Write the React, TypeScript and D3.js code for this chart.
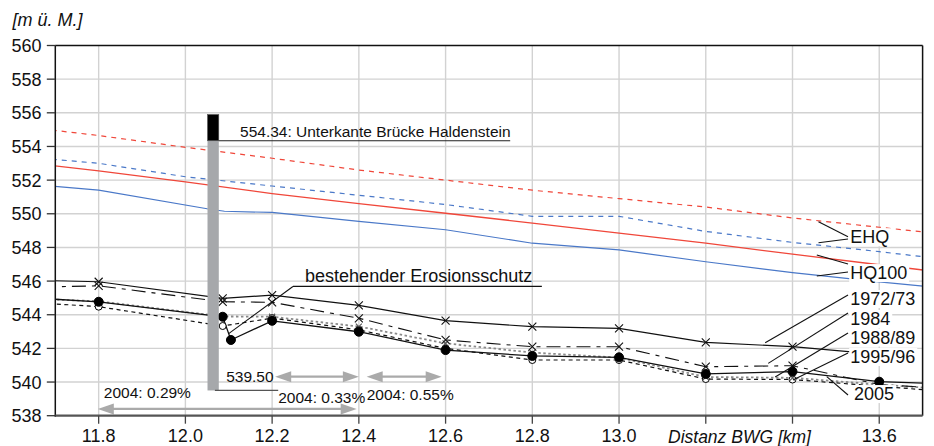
import React, { useEffect, useRef } from "react";
import * as d3 from "d3";

const W = 934;
const H = 446;
const KM_DOMAIN: [number, number] = [11.7, 13.7];
const ELEV_DOMAIN: [number, number] = [538, 560];

const xTicks = [11.8, 12.0, 12.2, 12.4, 12.6, 12.8, 13.0, 13.2, 13.4, 13.6];
const xTickLabels = ["11.8", "12.0", "12.2", "12.4", "12.6", "12.8", "13.0", "", "", "13.6"];
const yTicks = [538, 540, 542, 544, 546, 548, 550, 552, 554, 556, 558, 560];

// Water levels
const hqKm = [11.6, 11.8, 12.0, 12.2, 12.4, 12.6, 12.8, 13.0, 13.2, 13.4, 13.6, 13.8];
const ehqRed = [555.25, 554.65, 553.95, 553.3, 552.6, 552.0, 551.4, 550.9, 550.4, 549.75, 549.2, 548.65];
const ehqBlue = [553.45, 553.0, 552.2, 551.65, 551.1, 550.55, 549.85, 549.85, 548.95, 548.3, 547.75, 547.15];
const hq100Red = [553.15, 552.55, 551.9, 551.2, 550.6, 550.03, 549.45, 548.85, 548.25, 547.6, 546.97, 546.35];
const hq100BlueKm = [11.6, 11.8, 12.05, 12.09, 12.2, 12.4, 12.6, 12.8, 13.0, 13.2, 13.4, 13.6, 13.8];
const hq100Blue = [551.85, 551.4, 550.3, 550.15, 550.08, 549.55, 549.05, 548.25, 547.85, 547.15, 546.5, 545.95, 545.45];

// River bed profiles
const profileKm = [11.6, 11.8, 12.086, 12.2, 12.4, 12.6, 12.8, 13.0, 13.2, 13.4, 13.6, 13.8];
const bed1972 = [546.08, 545.96, 544.97, 545.17, 544.56, 543.65, 543.29, 543.19, 542.36, 542.1, 541.65, null];
const bed1984 = [545.6, 545.72, 544.77, 544.74, 543.79, 542.5, 542.1, 542.1, 540.91, 540.97, 539.85, 539.55];
const bed1988 = [545.0, 544.8, 543.9, 543.88, 543.3, 542.3, 541.75, 541.45, 540.3, 540.25, 539.85, 539.5];
const bed1995 = [544.8, 544.48, 543.33, 543.8, 543.1, 542.0, 541.31, 541.31, 540.18, 540.15, 539.75, 539.35];
const bed2005Km = [11.6, 11.8, 12.086, 12.105, 12.2, 12.4, 12.6, 12.8, 13.0, 13.2, 13.4, 13.6, 13.8];
const bed2005 = [545.07, 544.77, 543.88, 542.5, 543.64, 542.99, 541.9, 541.55, 541.47, 540.48, 540.62, 540.02, 539.85];

// Bridge
const bridgeKm = [12.051, 12.077];
const bridgeBottom = 539.5;
const bridgeSoffit = 554.34;
const bridgeTop = 555.9;

// Right-side labels: text, km, baseline elev, leader lines [km1, e1, km2, e2]
const labelTexts = ["EHQ", "HQ100", "1972/73", "1984", "1988/89", "1995/96", "2005"];
const labelKm = [13.533, 13.533, 13.533, 13.533, 13.533, 13.533, 13.542];
const labelElev = [548.25, 546.12, 544.58, 543.39, 542.29, 541.13, 538.93];
const labelLeaders: number[][][] = [
  [[13.528, 548.64, 13.46, 549.53], [13.528, 548.5, 13.46, 548.28]],
  [[13.528, 547.02, 13.456, 547.55], [13.528, 546.54, 13.456, 546.3]],
  [[13.528, 545.17, 13.337, 542.34]],
  [[13.528, 544.1, 13.344, 541.11]],
  [[13.528, 542.91, 13.36, 540.3]],
  [[13.528, 541.73, 13.401, 540.12]],
  [[13.528, 539.23, 13.479, 540.32]],
];

// Slope arrows [km1, km2, elev]
const arrows = [
  [11.798, 12.395, 538.4],
  [12.207, 12.4, 540.32],
  [12.418, 12.591, 540.32],
];
const slopeTexts = ["2004: 0.29%", "2004: 0.33%", "2004: 0.55%"];
const slopeTextKm = [11.812, 12.214, 12.418];
const slopeTextElev = [539.05, 538.78, 538.93];

const FONT = "'Liberation Sans', Arial, Helvetica, sans-serif";

export default function App() {
  const ref = useRef<SVGSVGElement>(null);

  useEffect(() => {
    const svg = d3.select(ref.current);
    svg.selectAll("*").remove();

    const x = d3.scaleLinear().domain(KM_DOMAIN).range([55.3, 922.6]);
    const y = d3.scaleLinear().domain(ELEV_DOMAIN).range([415.7, 45.5]);
    const [x0, x1] = x.range();
    const [y0, y1] = y.range();

    svg.append("rect").attr("width", W).attr("height", H).attr("fill", "#fff");

    const defs = svg.append("defs");
    defs.append("clipPath").attr("id", "plotclip")
      .append("rect").attr("x", x0).attr("y", y1).attr("width", x1 - x0).attr("height", y0 - y1);

    // gridlines
    const grid = svg.append("g").attr("stroke", "#d2d2d2").attr("stroke-width", 1.4);
    xTicks.forEach((t) => {
      grid.append("line").attr("x1", x(t)).attr("x2", x(t)).attr("y1", y1).attr("y2", y0);
    });
    yTicks.filter((t) => t > 538 && t < 560).forEach((t) => {
      grid.append("line").attr("x1", x0).attr("x2", x1).attr("y1", y(t)).attr("y2", y(t));
    });

    const plot = svg.append("g").attr("clip-path", "url(#plotclip)");

    const lineGen = (kms: number[]) =>
      d3.line<number | null>()
        .defined((d) => d !== null)
        .x((_, i) => x(kms[i]))
        .y((d) => y(d as number));

    const drawLine = (kms: number[], vals: (number | null)[], color: string, width: number, dash: string | null) => {
      const p = plot.append("path")
        .attr("d", lineGen(kms)(vals))
        .attr("fill", "none")
        .attr("stroke", color)
        .attr("stroke-width", width);
      if (dash) p.attr("stroke-dasharray", dash);
    };

    // water levels
    drawLine(hqKm, ehqRed, "#f0473a", 1.2, "5,5");
    drawLine(hqKm, ehqBlue, "#4a78c8", 1.2, "5,5");
    drawLine(hqKm, hq100Red, "#f0473a", 1.3, null);
    drawLine(hq100BlueKm, hq100Blue, "#4a78c8", 1.2, null);

    // bed profiles
    drawLine(profileKm, bed1988, "#8a8a8a", 1.8, "2.5,2.5");
    drawLine(profileKm, bed1995, "#111", 1.2, "4,3.5");
    drawLine(profileKm, bed1984, "#111", 1.1, "14,6,4,6");
    drawLine(profileKm, bed1972, "#111", 1.2, null);
    drawLine(bed2005Km, bed2005, "#111", 1.3, null);

    const cross = (h: number) => `M${-h},${-h}L${h},${h}M${-h},${h}L${h},${-h}`;
    const drawCross = (kms: number[], vals: (number | null)[], h: number, color: string) => {
      vals.forEach((v, i) => {
        if (v === null) return;
        plot.append("path").attr("d", cross(h))
          .attr("transform", `translate(${x(kms[i])},${y(v)})`)
          .attr("stroke", color).attr("stroke-width", 1.1).attr("fill", "none");
      });
    };
    const drawCircle = (kms: number[], vals: (number | null)[], r: number, filled: boolean) => {
      vals.forEach((v, i) => {
        if (v === null) return;
        plot.append("circle").attr("cx", x(kms[i])).attr("cy", y(v)).attr("r", r)
          .attr("fill", filled ? "#000" : "#fff").attr("stroke", "#000").attr("stroke-width", 1);
      });
    };
    drawCircle(profileKm, bed1995, 3.5, false);
    drawCross(profileKm, bed1988, 3, "#555");
    drawCross(profileKm, bed1984, 4, "#111");
    drawCross(profileKm, bed1972, 4, "#111");
    drawCircle(bed2005Km, bed2005, 4.5, true);

    // bridge pier
    svg.append("rect")
      .attr("x", x(bridgeKm[0])).attr("width", x(bridgeKm[1]) - x(bridgeKm[0]))
      .attr("y", y(bridgeSoffit)).attr("height", y(bridgeBottom) - y(bridgeSoffit))
      .attr("fill", "#a6a8ab");
    svg.append("rect")
      .attr("x", x(bridgeKm[0])).attr("width", x(bridgeKm[1]) - x(bridgeKm[0]))
      .attr("y", y(bridgeTop)).attr("height", y(bridgeSoffit) - y(bridgeTop))
      .attr("fill", "#000").attr("stroke", "#555").attr("stroke-width", 0.6);

    // bridge annotation
    svg.append("line")
      .attr("x1", x(bridgeKm[1])).attr("x2", x(12.749))
      .attr("y1", y(bridgeSoffit)).attr("y2", y(bridgeSoffit))
      .attr("stroke", "#222").attr("stroke-width", 1.2);
    svg.append("text").attr("x", x(12.126)).attr("y", y(554.55))
      .attr("font-size", 15.5).attr("font-family", FONT).attr("fill", "#111")
      .text("554.34: Unterkante Brücke Haldenstein");

    // 539.50 annotation
    svg.append("line")
      .attr("x1", x(12.068)).attr("x2", x(12.214))
      .attr("y1", y(bridgeBottom)).attr("y2", y(bridgeBottom))
      .attr("stroke", "#555").attr("stroke-width", 1.2);
    svg.append("text").attr("x", x(12.094)).attr("y", y(540.0))
      .attr("font-size", 15.5).attr("font-family", FONT).attr("fill", "#111")
      .text("539.50");

    // Erosionsschutz annotation
    svg.append("line")
      .attr("x1", x(12.248)).attr("x2", x(12.822))
      .attr("y1", y(545.68)).attr("y2", y(545.68))
      .attr("stroke", "#111").attr("stroke-width", 1.2);
    svg.append("line")
      .attr("x1", x(12.248)).attr("y1", y(545.68))
      .attr("x2", x(12.099)).attr("y2", y(542.86))
      .attr("stroke", "#111").attr("stroke-width", 1.1);
    svg.append("text").attr("x", x(12.276)).attr("y", y(545.95))
      .attr("font-size", 18).attr("font-family", FONT).attr("fill", "#111")
      .text("bestehender Erosionsschutz");

    // slope arrows
    const arrowColor = "#aaaaaa";
    arrows.forEach(([k1, k2, e]) => {
      const ax1 = x(k1), ax2 = x(k2), ay = y(e);
      const hl = 16, hw = 5.5;
      svg.append("line").attr("x1", ax1 + hl - 2).attr("x2", ax2 - hl + 2).attr("y1", ay).attr("y2", ay)
        .attr("stroke", arrowColor).attr("stroke-width", 2.2);
      svg.append("path").attr("d", `M${ax1},${ay}L${ax1 + hl},${ay - hw}L${ax1 + hl},${ay + hw}Z`).attr("fill", arrowColor);
      svg.append("path").attr("d", `M${ax2},${ay}L${ax2 - hl},${ay - hw}L${ax2 - hl},${ay + hw}Z`).attr("fill", arrowColor);
    });
    slopeTexts.forEach((t, i) => {
      svg.append("text").attr("x", x(slopeTextKm[i])).attr("y", y(slopeTextElev[i]))
        .attr("font-size", 15.5).attr("font-family", FONT).attr("fill", "#111").text(t);
    });

    // right labels with leaders
    labelTexts.forEach((t, i) => {
      labelLeaders[i].forEach(([ka, ea, kb, eb]) => {
        svg.append("line").attr("x1", x(ka)).attr("y1", y(ea)).attr("x2", x(kb)).attr("y2", y(eb))
          .attr("stroke", "#111").attr("stroke-width", 1.1);
      });
    });
    labelTexts.forEach((t, i) => {
      const g = svg.append("g");
      const txt = g.append("text").attr("x", x(labelKm[i])).attr("y", y(labelElev[i]))
        .attr("font-size", 18).attr("font-family", FONT).attr("fill", "#111").text(t);
      const bb = (txt.node() as SVGTextElement).getBBox();
      g.insert("rect", "text").attr("x", bb.x - 1).attr("y", bb.y + 1).attr("width", bb.width + 3).attr("height", bb.height - 2)
        .attr("fill", "#fff");
    });

    // frame / axes
    svg.append("line").attr("x1", x0).attr("x2", x1).attr("y1", y1).attr("y2", y1).attr("stroke", "#111").attr("stroke-width", 1.5);
    svg.append("line").attr("x1", x1).attr("x2", x1).attr("y1", y1).attr("y2", y0).attr("stroke", "#111").attr("stroke-width", 1.5);
    svg.append("line").attr("x1", x0).attr("x2", x0).attr("y1", y1).attr("y2", y0 + 1).attr("stroke", "#111").attr("stroke-width", 1.5);
    svg.append("line").attr("x1", x0).attr("x2", x1).attr("y1", y0).attr("y2", y0).attr("stroke", "#555").attr("stroke-width", 2.2);

    yTicks.forEach((t) => {
      svg.append("line").attr("x1", x0 - 8.5).attr("x2", x0).attr("y1", y(t)).attr("y2", y(t))
        .attr("stroke", "#333").attr("stroke-width", 1.3);
      svg.append("text").attr("x", 41.5).attr("y", y(t) + 6.5).attr("text-anchor", "end")
        .attr("font-size", 18).attr("font-family", FONT).attr("fill", "#111").text(String(t));
    });
    xTicks.forEach((t, i) => {
      svg.append("line").attr("x1", x(t)).attr("x2", x(t)).attr("y1", y0).attr("y2", y0 + 8)
        .attr("stroke", "#444").attr("stroke-width", 1.3);
      if (xTickLabels[i]) {
        svg.append("text").attr("x", x(t)).attr("y", 442).attr("text-anchor", "middle")
          .attr("font-size", 18).attr("font-family", FONT).attr("fill", "#111").text(xTickLabels[i]);
      }
    });

    svg.append("text").attr("x", 668).attr("y", 443)
      .attr("font-size", 17.5).attr("font-style", "italic").attr("font-family", FONT).attr("fill", "#111")
      .text("Distanz BWG [km]");
    svg.append("text").attr("x", 12.5).attr("y", 26)
      .attr("font-size", 18).attr("font-style", "italic").attr("font-family", FONT).attr("fill", "#111")
      .text("[m ü. M.]");
  }, []);

  return (
    <svg
      ref={ref}
      width={W}
      height={H}
      style={{ position: "absolute", left: 0, top: 0, display: "block" }}
    />
  );
}
